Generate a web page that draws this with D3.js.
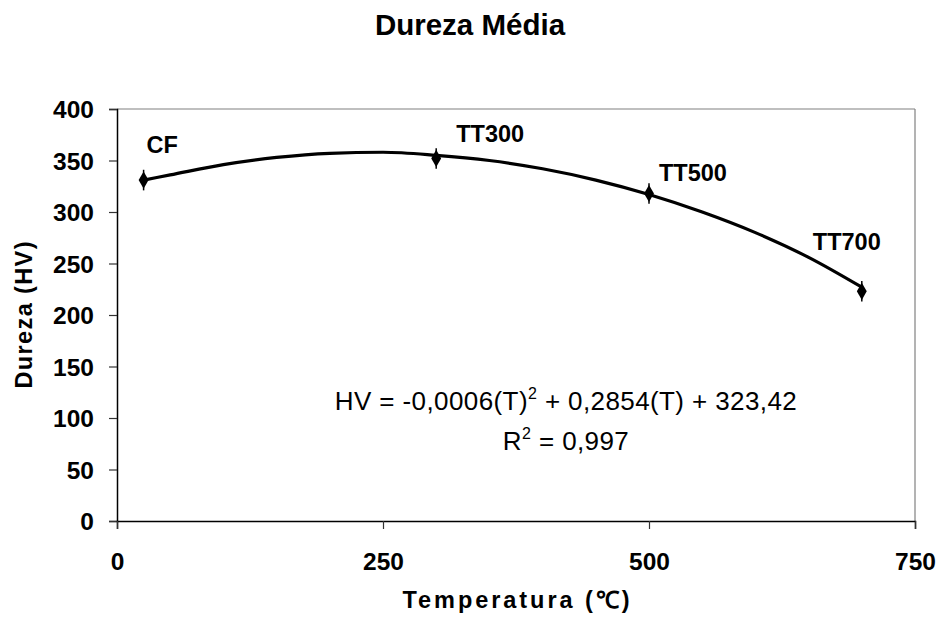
<!DOCTYPE html>
<html><head><meta charset="utf-8">
<script src="https://cdn.jsdelivr.net/npm/d3@7"></script>
<style>
body{margin:0;background:#fff;}
text{font-family:"Liberation Sans",Arial,sans-serif;}
</style></head>
<body><svg id="c" width="941" height="622"></svg>
<script>
// ---- data ----
const labels = ["CF","TT300","TT500","TT700"];
const temps = [25, 300, 500, 700];
const hardness = [331, 352, 318, 223];
const errors = [10, 10, 10, 10];
const trendT = [25, 50, 100, 150, 200, 250, 300, 350, 400, 450, 500, 550, 600, 650, 700];
const trendHV = [331, 336, 346, 353, 357, 358, 355, 350, 342, 331, 317, 300, 280, 256, 227];
const xTicks = [0, 250, 500, 750];
const yTicks = [0, 50, 100, 150, 200, 250, 300, 350, 400];
const equationText = ["HV = -0,0006(T)", "2", " + 0,2854(T) + 323,42"];
const r2Text = ["R", "2", " = 0,997"];

// ---- layout ----
const svg = d3.select("#c");
const L = 117, R = 915, T = 109, B = 521;
const x = d3.scaleLinear().domain([0, 750]).range([L, R]);
const y = d3.scaleLinear().domain([0, 400]).range([B, T]);
const labelOffsets = [[3,-27],[20,-16],[10,-12],[-49,-41]];

svg.append("text").attr("x", 470).attr("y", 35).attr("text-anchor","middle")
  .attr("font-size", 29.5).attr("font-weight","bold")
  .text("Dureza Média");

// plot border top/right
svg.append("line").attr("x1",L).attr("x2",R).attr("y1",T).attr("y2",T).attr("stroke","#808080").attr("stroke-width",1.2);
svg.append("line").attr("x1",R).attr("x2",R).attr("y1",T).attr("y2",B).attr("stroke","#808080").attr("stroke-width",1.2);

// axes
const yAxis = svg.append("g").attr("transform",`translate(${L},0)`)
  .call(d3.axisLeft(y).tickValues(yTicks).tickSize(8).tickPadding(15).tickFormat(d3.format("d")));
const xAxis = svg.append("g").attr("transform",`translate(0,${B})`)
  .call(d3.axisBottom(x).tickValues(xTicks).tickSize(8).tickPadding(24).tickFormat(d3.format("d")));
[yAxis, xAxis].forEach(g => {
  g.select(".domain").attr("stroke","#000").attr("stroke-width",1.5);
  g.selectAll(".tick line").attr("stroke","#333").attr("stroke-width",1.2);
  g.selectAll(".tick text").attr("font-size",24.5).attr("font-weight","bold").attr("fill","#000")
    .attr("font-family","Liberation Sans, Arial, sans-serif");
});
yAxis.selectAll(".tick text").attr("dy","0.36em");

// axis titles
svg.append("text").attr("x", 516).attr("y", 608).attr("text-anchor","middle")
  .attr("font-size",23.5).attr("font-weight","bold").attr("textLength",227).attr("lengthAdjust","spacing")
  .text("Temperatura (℃)");
svg.append("text").attr("transform",`translate(32,315) rotate(-90)`).attr("text-anchor","middle")
  .attr("font-size",23.5).attr("font-weight","bold").attr("textLength",147).attr("lengthAdjust","spacing")
  .text("Dureza (HV)");

// trend line
const line = d3.line().x((d,i)=>x(trendT[i])).y(d=>y(d)).curve(d3.curveMonotoneX);
svg.append("path").datum(trendHV).attr("d", line).attr("fill","none").attr("stroke","#000").attr("stroke-width",3.2);

// error bars
svg.selectAll(".err").data(hardness).join("line").attr("class","err")
  .attr("x1",(d,i)=>x(temps[i])).attr("x2",(d,i)=>x(temps[i]))
  .attr("y1",(d,i)=>y(d - errors[i])).attr("y2",(d,i)=>y(d + errors[i]))
  .attr("stroke","#000").attr("stroke-width",1.5);

// markers
svg.selectAll(".pt").data(hardness).join("path").attr("class","pt")
  .attr("transform",(d,i)=>`translate(${x(temps[i])},${y(d)})`)
  .attr("d", d3.symbol().type(d3.symbolDiamond).size(85)).attr("fill","#000");

// point labels
svg.selectAll(".lbl").data(labels).join("text").attr("class","lbl")
  .attr("x",(d,i)=>x(temps[i]) + labelOffsets[i][0])
  .attr("y",(d,i)=>y(hardness[i]) + labelOffsets[i][1])
  .attr("font-size",23.5).attr("font-weight","bold").text(d=>d);

// equation
function eq(parts, cy) {
  const t = svg.append("text").attr("x",566).attr("y",cy).attr("text-anchor","middle")
    .attr("font-size",26).attr("letter-spacing",0.4);
  t.append("tspan").text(parts[0]);
  t.append("tspan").attr("font-size",16).attr("dy",-11).text(parts[1]);
  t.append("tspan").attr("dy",11).text(parts[2]);
}
eq(equationText, 410);
eq(r2Text, 450);
</script></body></html>
